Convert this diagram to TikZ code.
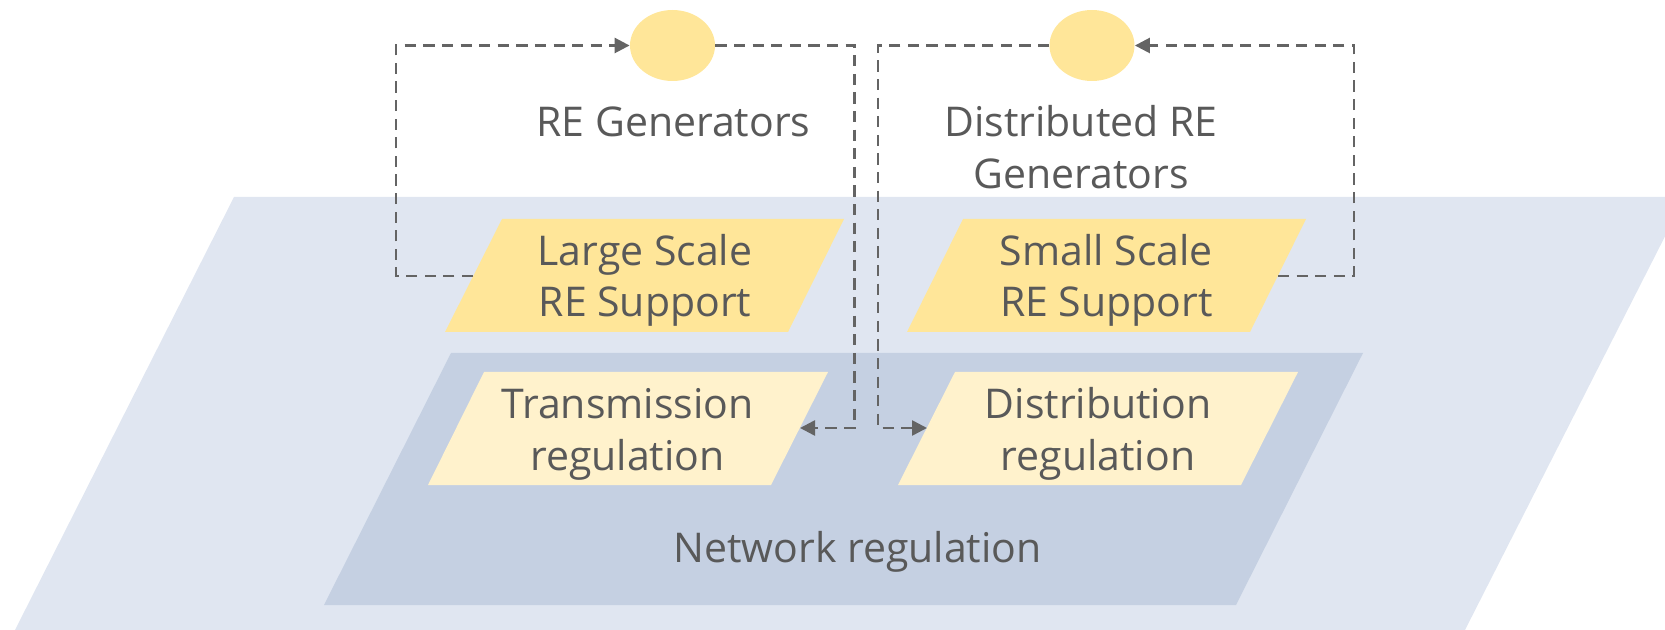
\documentclass[tikz,border=0pt]{standalone}
\usepackage{fontspec}
\setmainfont{Open Sans}
\usetikzlibrary{arrows.meta,shapes.geometric}
\definecolor{bgblue}{HTML}{E0E6F1}
\definecolor{netblue}{HTML}{C5D0E2}
\definecolor{ydark}{HTML}{FFE699}
\definecolor{ylight}{HTML}{FFF2CC}
\definecolor{txt}{HTML}{595959}
\definecolor{conn}{HTML}{646464}
\tikzset{
  lbl/.style={inner sep=0pt, align=center, text=txt, font=\fontsize{20.5}{25.75}\selectfont},
  gen/.style={ellipse, fill=ydark, inner sep=0pt, minimum width=42.5pt, minimum height=35.5pt},
  link/.style={draw=conn, line width=1.3pt, dash pattern=on 5.6pt off 3.7pt, -{Triangle[length=7.5pt,width=7.5pt]}},
}
\begin{document}
\begin{tikzpicture}[x=0.5pt,y=-0.5pt]
\useasboundingbox (0,0) rectangle (1665,630);
\begin{scope}
\clip (0,0) rectangle (1665,630);
\fill[bgblue] (234,197) -- (1685,197) -- (1465,630) -- (15,630) -- cycle;
\end{scope}
\fill[netblue] (451,353) -- (1363,353) -- (1236,605) -- (324,605) -- cycle;
\fill[ydark] (502,219) -- (844,219) -- (788,332) -- (445,332) -- cycle;
\fill[ydark] (963,219) -- (1306,219) -- (1250,332) -- (907,332) -- cycle;
\fill[ylight] (484,372) -- (828,372) -- (771,485) -- (428,485) -- cycle;
\fill[ylight] (955,372) -- (1298,372) -- (1241,485) -- (898,485) -- cycle;

\node[gen] (g1) at (672.5,45.5) {};
\node[gen] (g2) at (1092,45.5) {};
\node[lbl] (g1t) at (673.5,126.7) {\strut RE Generators};
\node[lbl] (g2t) at (1081,152.2) {\strut Distributed RE\\\strut Generators};
\node[lbl] (ls) at (645,280.7) {\strut Large Scale\\\strut RE Support};
\node[lbl] (ss) at (1106.5,280.7) {\strut Small Scale\\\strut RE Support};
\node[lbl] (tr) at (627.5,434.2) {\strut Transmission\\\strut regulation};
\node[lbl] (dr) at (1098,434.2) {\strut Distribution\\\strut regulation};
\node[lbl] (nr) at (857.5,551.7) {\strut Network regulation};

\coordinate (lsL) at (473,276);
\coordinate (ssR) at (1278,276);
\coordinate (trR) at (800,428);
\coordinate (drL) at (927,428);

\draw[link] (lsL) -- ++(-77,0) |- (g1.west);
\draw[link] (g1.east) -- ++(139,0) |- (trR);
\draw[link] (ssR) -- ++(76,0) |- (g2.east);
\draw[link] (g2.west) -- ++(-171,0) |- (drL);
\end{tikzpicture}
\end{document}
